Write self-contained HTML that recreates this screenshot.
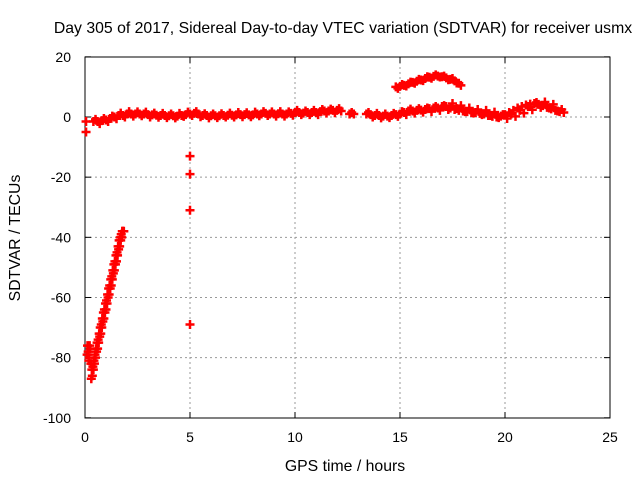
<!DOCTYPE html>
<html><head><meta charset="utf-8"><style>
body{margin:0;background:#fff}
svg text{font-family:"Liberation Sans",sans-serif;font-size:14px;fill:#000}
svg text.big{font-size:15.8px}
</style></head><body>
<svg id="chart" width="640" height="480">
<text class="big" x="343" y="33" text-anchor="middle">Day 305 of 2017, Sidereal Day-to-day VTEC variation (SDTVAR) for receiver usmx</text>
<text class="big" x="345" y="471" text-anchor="middle">GPS time / hours</text>
<text class="big" transform="translate(20,238) rotate(-90)" text-anchor="middle">SDTVAR / TECUs</text>
<g id="grid"></g><g id="axes"></g><g id="marks"></g>
</svg>
<script>
const xTicks=[0,5,10,15,20,25];
const yTicks=[20,0,-20,-40,-60,-80,-100];
const bandT=[0.4,0.6,0.8,1.0,1.2,1.4,1.6,1.8,2.0,2.2,2.4,2.6,2.8,3.0,3.2,3.4,3.6,3.8,4.0,4.2,4.4,4.6,4.8,5.0,5.2,5.4,5.6,5.8,6.0,6.2,6.4,6.6,6.8,7.0,7.2,7.4,7.6,7.8,8.0,8.2,8.4,8.6,8.8,9.0,9.2,9.4,9.6,9.8,10.0,10.2,10.4,10.6,10.8,11.0,11.2,11.4,11.6,11.8,12.0,12.2,12.6,12.8,13.4,13.6,13.8,14.0,14.2,14.4,14.6,14.8,15.0,15.2,15.4,15.6,15.8,16.0,16.2,16.4,16.6,16.8,17.0,17.2,17.4,17.6,17.8,18.0,18.2,18.4,18.6,18.8,19.0,19.2,19.4,19.6,19.8,20.0,20.2,20.4,20.6,20.8,21.0,21.2,21.4,21.6,21.8,22.0,22.2,22.4,22.6,22.8];
const bandV=[-1.5,-1.5,-1.2,-1,-0.5,0,0.5,0.5,1,1,1,1,1,0.8,0.7,0.6,0.5,0.5,0.4,0.4,0.3,0.5,0.8,1,1.2,1,0.5,0.5,0.4,0.4,0.4,0.5,0.6,0.6,0.7,0.8,0.8,0.7,0.7,1,1,1.2,1,1,1.1,1,1,1.2,1.5,1.5,1.3,1.5,1.5,1.5,1.8,2,2,2.2,2.2,2,1,1,1,0.8,0.5,0.5,0.3,0.3,0.5,0.8,1,1.5,2,2,2.2,2.3,2.5,2.8,3,3,3.5,3.5,3,2.5,2.2,2,1.8,1.5,1.5,1.2,1,0.5,0.2,0,0.3,0.8,1.5,2.2,3,3.5,4,4.3,4.5,4.2,3.8,3.2,2.7,2.2,1.8,1.5];
const band2T=[0.5,0.7,0.9,1.1,1.3,1.5,1.7,1.9,2.1,2.3,2.5,2.7,2.9,3.1,3.3,3.5,3.7,3.9,4.1,4.3,4.5,4.7,4.9,5.1,5.3,5.5,5.7,5.9,6.1,6.3,6.5,6.7,6.9,7.1,7.3,7.5,7.7,7.9,8.1,8.3,8.5,8.7,8.9,9.1,9.3,9.5,9.7,9.9,10.1,10.3,10.5,10.7,10.9,11.1,11.3,11.5,11.7,11.9,12.1,12.7,13.5,13.7,13.9,14.1,14.3,14.5,14.7,14.9,15.1,15.3,15.5,15.7,15.9,16.1,16.3,16.5,16.7,16.9,17.1,17.3,17.5,17.7,17.9,18.1,18.3,18.5,18.7,18.9,19.1,19.3,19.5,19.7,19.9,20.1,20.3,20.5,20.7,20.9,21.1,21.3,21.5,21.7,21.9,22.1,22.3,22.5,22.7];
const band2V=[-0.8,-2.2,-0.5,-1.5,0.3,-0.6,1.3,0,1.8,0.3,1.7,0.4,1.6,0,1.3,-0.1,1.2,-0.2,1.0,-0.3,1.2,0.2,1.6,0.5,1.8,0.1,1.1,-0.3,1.0,-0.2,1.1,0,1.3,0,1.5,0.1,1.4,0.1,1.6,0.4,1.8,0.5,1.7,0.3,1.8,0.3,1.7,0.6,2.2,0.8,2.0,0.8,2.2,0.8,2.5,1.3,2.6,1.4,2.8,1.5,1.5,0,1.2,-0.3,1.0,-0.2,1.2,0.2,1.8,0.8,2.6,1.3,2.8,1.6,3.0,1.8,3.5,2.2,3.8,2.5,4.5,2.8,3.8,1.8,3.0,1.3,2.5,0.8,2.2,0.5,1.6,-0.2,0.8,-0.5,1.0,0.2,2.2,1.3,3.5,2.4,4.8,3.2,5.0,3.0,4.2,2.0,2.5];
const rampT=[0.1,0.15,0.2,0.25,0.3,0.35,0.4,0.45,0.5,0.55,0.6,0.65,0.7,0.75,0.8,0.85,0.9,0.95,1.0,1.05,1.1,1.15,1.2,1.25,1.3,1.35,1.4,1.45,1.5,1.55,1.6,1.65,1.7,1.75,1.8,1.85];
const rampV=[-79,-78,-80,-77,-87,-86,-84,-82,-80,-78,-77,-75,-73,-72,-70,-68,-67,-65,-64,-62,-60,-59,-57,-56,-54,-52,-51,-49,-48,-46,-44,-43,-41,-40,-38,-38];
const ramp2T=[0.12,0.18,0.22,0.28,0.325,0.375,0.425,0.475,0.525,0.575,0.625,0.675,0.725,0.775,0.825,0.875,0.925,0.975,1.025,1.075,1.125,1.175,1.225,1.275,1.325,1.375,1.425,1.475,1.525,1.575,1.625,1.675,1.725,1.775];
const ramp2V=[-76,-81,-76,-82,-84,-83,-81,-79,-77,-75,-74,-72,-70,-69,-67,-65,-64,-62,-61,-59,-57,-56,-54,-53,-51,-49,-48,-46,-45,-43,-41,-40,-39,-38];
const arcT=[14.8,15.0,15.2,15.4,15.6,15.8,16.0,16.2,16.4,16.6,16.8,17.0,17.2,17.4,17.6,17.8,17.9];
const arcV=[10,10.2,10.5,11,11.5,11.9,12.3,12.8,13.2,13.5,13.6,13.4,13,12.5,12,11.2,10.5];
const arc2T=[14.9,15.1,15.3,15.5,15.7,15.9,16.1,16.3,16.5,16.7,16.9,17.1,17.3,17.5,17.7];
const arc2V=[9.5,10.8,10.3,11.6,11.2,12.5,12.1,13.4,12.9,14.0,13.3,13.6,12.4,12.8,11.3];
const outT=[0.05,0.05,5,5,5,5];
const outV=[-1.5,-5,-13,-19,-31,-69];
const X=t=>85+t*21, Y=v=>117-v*3.008;
const NS='http://www.w3.org/2000/svg';
function mk(tag,attrs,parent){const e=document.createElementNS(NS,tag);for(const k in attrs)e.setAttribute(k,attrs[k]);parent.appendChild(e);return e;}
const grid=document.getElementById('grid'),axes=document.getElementById('axes'),marks=document.getElementById('marks');
xTicks.forEach(t=>{
 if(t>0&&t<25){const g=mk('line',{x1:X(t),x2:X(t),y1:57,y2:418,stroke:'#999','stroke-dasharray':'2,3'},grid);
 
 }
 mk('line',{x1:X(t),x2:X(t),y1:418,y2:412,stroke:'#000'},axes);
 mk('line',{x1:X(t),x2:X(t),y1:57,y2:63,stroke:'#000'},axes);
 const l=mk('text',{x:X(t),y:442,'text-anchor':'middle'},axes);l.textContent=t;
 
 
});
yTicks.forEach(v=>{
 if(v<20&&v>-100){const g=mk('line',{x1:85,x2:610,y1:Y(v),y2:Y(v),stroke:'#999','stroke-dasharray':'2,3'},grid);
 
 }
 mk('line',{x1:85,x2:91,y1:Y(v),y2:Y(v),stroke:'#000'},axes);
 mk('line',{x1:610,x2:604,y1:Y(v),y2:Y(v),stroke:'#000'},axes);
 const l=mk('text',{x:71,y:Y(v)+5,'text-anchor':'end'},axes);l.textContent=v;
 
 
});
const frame=mk('rect',{x:85,y:57,width:525,height:361,fill:'none',stroke:'#000'},axes);


function plus(t,v){const x=X(t),y=Y(v);
 const p=mk('path',{d:`M${x-4.5},${y}h9M${x},${y-4.5}v9`,stroke:'#f00','stroke-width':2.5,fill:'none'},marks);
 
 }
function series(T,V){const n=Math.min(T.length,V.length);for(let i=0;i<n;i++)plus(T[i],V[i]);}
series(bandT,bandV);series(band2T,band2V);
series(rampT,rampV);series(ramp2T,ramp2V);
series(arcT,arcV);series(arc2T,arc2V);
series(outT,outV);
</script>
</body></html>
